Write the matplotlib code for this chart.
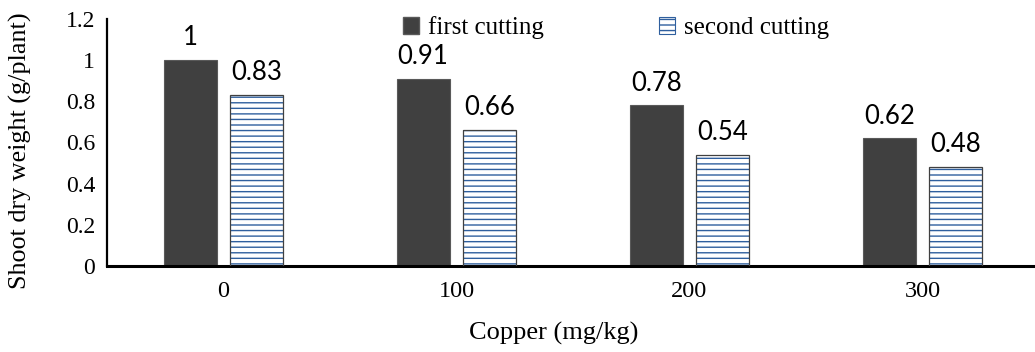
import matplotlib
matplotlib.use("Agg")
import matplotlib.pyplot as plt
import numpy as np
from matplotlib.patches import Patch

plt.rcParams['hatch.linewidth'] = 1.0

copper = ["0", "100", "200", "300"]
first_cutting = [1.0, 0.91, 0.78, 0.62]
second_cutting = [0.83, 0.66, 0.54, 0.48]
y_ticks = [0, 0.2, 0.4, 0.6, 0.8, 1, 1.2]
y_tick_labels = ["0", "0.2", "0.4", "0.6", "0.8", "1", "1.2"]

serif = "Liberation Serif"
sans = "Lato"

W, H = 1035, 352
fig = plt.figure(figsize=(W / 100, H / 100), dpi=100)
ax = fig.add_axes([107 / W, 86 / H, 932 / W, 247 / H])

x = np.arange(len(copper))
w = 0.227
off = 0.143

dark = "#404040"
blue = "#2F5F9E"

b1 = ax.bar(x - off, first_cutting, w, color=dark, edgecolor="#595959", linewidth=0.8, zorder=2)
# hatched second-cutting bars: hatch drawn in blue, outline drawn on top in gray
ax.bar(x + off, second_cutting, w, color="white", edgecolor=blue, hatch="---", linewidth=0, zorder=2)
b2 = ax.bar(x + off, second_cutting, w, color="none", edgecolor="#404040", linewidth=0.9, zorder=3)

def fmt(v):
    return "1" if v == 1 else f"{v:.2f}"

ax.bar_label(b1, labels=[fmt(v) for v in first_cutting], padding=7, fontsize=18.5, family=sans)
ax.bar_label(b2, labels=[fmt(v) for v in second_cutting], padding=7, fontsize=18.5, family=sans)

ax.set_xlim(-0.5, 3.5)
ax.set_ylim(0, 1.2)
ax.set_xticks(x)
ax.set_xticklabels(copper, fontsize=17.5, family=serif)
ax.set_yticks(y_ticks)
ax.set_yticklabels(y_tick_labels, fontsize=17, family=serif)
ax.tick_params(axis="both", length=0)
ax.tick_params(axis="x", pad=11)
ax.tick_params(axis="y", pad=8.5)

for s in ["top", "right"]:
    ax.spines[s].set_visible(False)
ax.spines["bottom"].set_linewidth(2.2)
ax.spines["left"].set_linewidth(1.6)

fig.text(554 / W, 1 - 333 / H, "Copper (mg/kg)", fontsize=19, family=serif,
         ha="center", va="center")
fig.text(20 / W, 1 - 151 / H, "Shoot dry weight (g/plant)", fontsize=18.8, family=serif,
         ha="center", va="center", rotation=90)

handles = [
    Patch(facecolor=dark, edgecolor="#595959", label="first cutting"),
    Patch(facecolor="white", edgecolor=blue, hatch="---", linewidth=0.8, label="second cutting"),
]
leg = fig.legend(handles=handles, ncol=2, frameon=False, loc="center left",
                 bbox_to_anchor=(403 / W, 1 - 28 / H), bbox_transform=fig.transFigure,
                 prop={"family": serif, "size": 18}, borderpad=0, borderaxespad=0,
                 handlelength=0.64, handleheight=0.64, handletextpad=0.36,
                 columnspacing=4.6)

fig.savefig("out.png", dpi=100)
